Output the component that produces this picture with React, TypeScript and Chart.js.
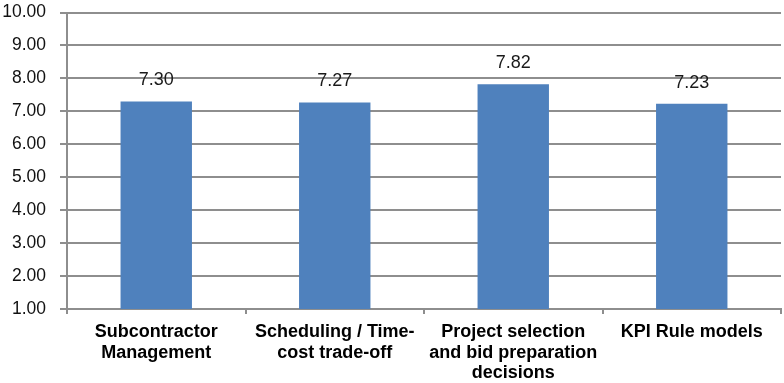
import React, { useEffect, useRef } from "react";
import { Chart, registerables } from "chart.js";

Chart.register(...registerables);

const categories: string[][] = [
  ["Subcontractor", "Management"],
  ["Scheduling / Time-", "cost trade-off"],
  ["Project selection", "and bid preparation", "decisions"],
  ["KPI Rule models"],
];
const values: number[] = [7.3, 7.27, 7.82, 7.23];
const yMin = 1;
const yMax = 10;
const yStep = 1;

const dataLabelPlugin = {
  id: "dataLabels",
  afterDatasetsDraw(chart: any) {
    const ctx = chart.ctx;
    const meta = chart.getDatasetMeta(0);
    ctx.save();
    ctx.font = "18px 'Liberation Sans', Arial, sans-serif";
    ctx.fillStyle = "#1a1a1a";
    ctx.textAlign = "center";
    ctx.textBaseline = "middle";
    meta.data.forEach((bar: any, i: number) => {
      ctx.fillText(values[i].toFixed(2), bar.x, bar.y - 21);
    });
    ctx.restore();
  },
};

export default function App() {
  const ref = useRef<HTMLCanvasElement>(null);
  useEffect(() => {
    document.body.style.margin = "0";
    const chart = new Chart(ref.current!, {
      type: "bar",
      data: {
        labels: categories,
        datasets: [
          {
            data: values,
            backgroundColor: "#4F81BD",
            borderWidth: 0,
            barPercentage: 0.4,
            categoryPercentage: 1,
          },
        ],
      },
      options: {
        animation: false,
        responsive: false,
        maintainAspectRatio: false,
        layout: { padding: { top: 0, right: 3, left: 0, bottom: 0 } },
        plugins: {
          legend: { display: false },
          tooltip: { enabled: false },
        },
        scales: {
          x: {
            grid: {
              display: true,
              drawOnChartArea: false,
              drawTicks: true,
              tickLength: 5,
              color: "#8e8e8e",
              lineWidth: 2,
              offset: true,
            },
            border: { color: "#8e8e8e", width: 2 },
            ticks: {
              color: "#000",
              font: { family: "'Liberation Sans', Arial, sans-serif", size: 18, weight: "bold", lineHeight: 1.14 },
              padding: 8,
              maxRotation: 0,
              autoSkip: false,
            },
            afterFit(scale: any) {
              scale.height = 74;
            },
          },
          y: {
            min: yMin,
            max: yMax,
            grid: {
              color: "#8e8e8e",
              tickLength: 7,
              lineWidth: 2,
            },
            border: { color: "#8e8e8e", width: 2 },
            ticks: {
              stepSize: yStep,
              color: "#111",
              font: { family: "'Liberation Sans', Arial, sans-serif", size: 17.5 },
              padding: 14,
              callback: (v: any) => Number(v).toFixed(2),
            },
            afterFit(scale: any) {
              scale.width = 67;
              scale.paddingTop = 12.5;
              scale.paddingBottom = 0;
            },
          },
        },
      },
      plugins: [dataLabelPlugin],
    });
    return () => chart.destroy();
  }, []);
  return (
    <div style={{ position: "absolute", left: 0, top: 0, width: 784, height: 383 }}>
      <canvas ref={ref} width={784} height={383} style={{ width: 784, height: 383 }} />
    </div>
  );
}
